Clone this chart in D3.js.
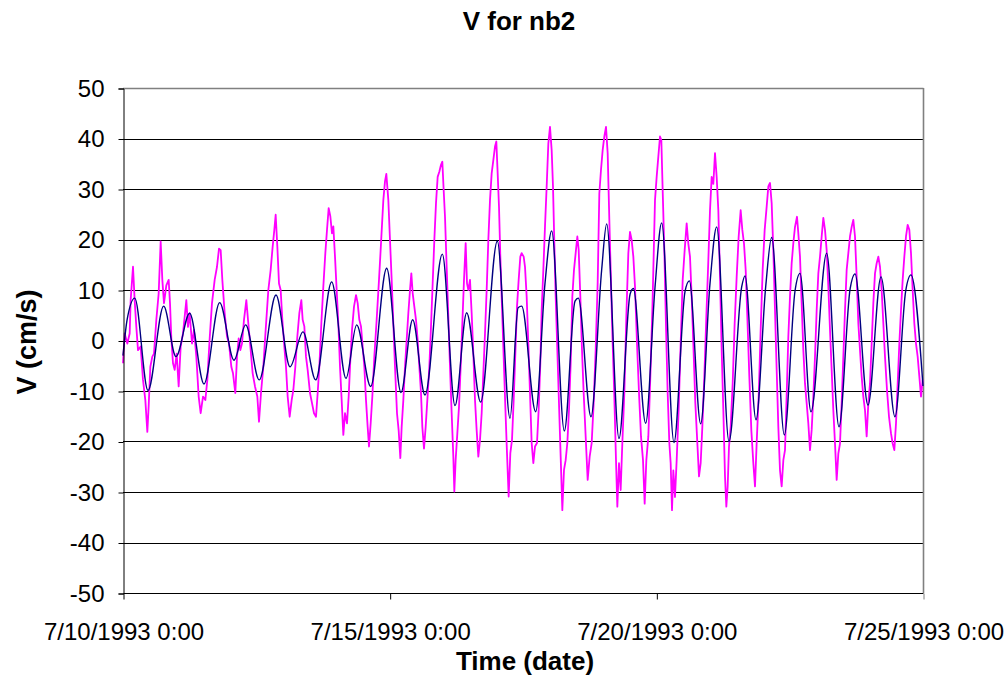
<!DOCTYPE html>
<html><head><meta charset="utf-8">
<script src="https://cdn.jsdelivr.net/npm/d3@7/dist/d3.min.js"></script>
<style>body{margin:0;background:#fff}svg{display:block}text{font-family:"Liberation Sans",Arial,sans-serif}</style>
</head><body><svg id="c" width="1007" height="679"></svg>
<script>
// ---- data (hours after 7/10/1993 0:00, V in cm/s) ----
const chartTitle = "V for nb2";
const xTitle = "Time (date)";
const yTitle = "V (cm/s)";
const yTicks = [-50,-40,-30,-20,-10,0,10,20,30,40,50];
const xTickHours = [0,120,240,360];
const xTickLabels = ["7/10/1993 0:00","7/15/1993 0:00","7/20/1993 0:00","7/25/1993 0:00"];

const observedHours = [0,0.75,1.95,3,3.45,4.5,5.25,6,6.75,7.95,9,10.05,10.95,11.55,12.3,13.2,13.95,15,16.05,16.95,17.7,18.45,19.5,20.55,21.15,21.75,22.5,23.25,24.15,25.05,25.95,27,27.75,28.5,29.25,30,31.05,31.95,33,34.05,34.95,36,37.05,37.95,39,40.05,41.25,42.3,43.2,43.95,44.7,45.75,46.8,47.7,48.75,49.5,50.55,51.3,52.05,52.8,53.55,54.45,55.5,56.25,57,
58.35,59.4,60.45,61.2,62.1,63.15,64.2,65.4,66.45,67.35,68.1,68.7,69.45,70.2,70.95,71.7,72.6,73.35,74.1,75,75.9,76.65,77.55,78.45,79.35,80.25,80.85,81.6,82.35,83.1,84.15,85.05,85.95,86.85,87.6,88.35,89.25,90.15,91.05,91.8,92.55,93.3,94.05,94.65,95.4,96.15,96.9,97.65,98.4,99.15,99.9,100.8,101.55,102.3,103.05,103.95,104.85,105.6,106.35,107.1,107.85,108.6,109.35,110.1,110.7,111.45,112.2,113.1,114.15,115.2,116.1,117.15,117.9,118.5,
119.4,120.15,120.9,121.65,122.4,123.3,124.05,124.8,125.4,126.15,126.9,127.65,128.4,129.15,129.75,130.35,131.1,131.85,132.6,133.35,134.1,134.7,135.45,136.2,136.95,137.85,138.6,139.35,140.1,140.85,141.6,142.35,143.1,143.7,144.3,144.9,145.65,146.4,147.15,147.9,148.65,149.1,149.7,150.45,151.2,151.95,152.7,153.45,154.2,154.8,155.4,156.15,156.9,157.65,158.4,159.15,159.9,160.65,161.4,162.15,162.9,163.65,164.4,165.15,165.9,166.65,167.4,168,168.6,169.2,169.8,170.55,171.3,172.05,172.8,173.55,174.3,175.05,175.8,176.55,177.3,178.05,178.8,
179.4,180.3,180.9,181.65,182.4,183.15,183.9,184.65,185.4,186.3,187.05,187.8,188.4,189.15,189.9,190.65,191.4,192.15,192.9,193.5,194.1,194.7,195.45,196.2,196.95,197.7,198.45,199.2,199.95,200.7,201.45,202.2,202.95,203.7,204.45,205.05,205.8,206.55,207.3,208.2,209.1,210,210.9,211.8,212.7,213.6,214.35,215.1,215.85,216.6,217.35,218.1,218.85,219.6,220.35,221.1,221.85,222.45,223.2,223.95,224.7,225.6,226.5,227.4,228.15,228.9,229.65,230.4,231.3,232.2,233.1,234,234.75,235.5,236.4,237.3,238.2,
238.65,239.4,240.15,240.9,241.65,242.25,242.85,243.6,244.35,245.1,245.85,246.45,247.05,247.65,248.4,249.15,250.05,250.95,251.85,252.75,253.65,254.4,255.15,255.9,256.65,257.55,258.45,259.2,259.95,260.7,261.6,262.5,263.4,264.15,264.9,265.65,266.4,267.15,267.9,268.65,269.4,270.15,270.9,271.5,272.1,272.7,273.45,274.35,275.25,276.15,277.05,277.95,278.7,279.45,280.2,280.95,281.85,282.75,283.65,284.4,285.15,286.05,286.95,287.85,288.75,289.65,290.4,291.15,291.9,292.65,293.4,294.15,294.9,295.65,296.4,297.15,297.9,298.65,
299.4,300.15,300.9,301.65,302.4,303.3,303.9,304.65,305.4,306.15,306.9,307.65,308.4,309.15,309.9,310.65,311.4,312.15,312.9,313.65,314.4,315.15,315.9,316.65,317.4,318.15,318.9,319.65,320.4,321.15,321.9,322.65,323.4,324.15,324.9,325.65,326.4,327.15,327.9,328.65,329.4,330.15,330.9,331.65,332.4,333.15,333.9,334.65,335.4,336.15,336.9,337.65,338.4,339.15,339.9,340.65,341.4,342.15,342.9,343.8,344.7,345.6,346.35,347.1,347.85,348.6,349.35,350.1,350.85,351.6,352.35,353.1,353.85,354.6,355.35,356.1,356.85,357.6,358.35,359.1,359.85];

const observedValues = [-4.5,1.4,-0.6,1.4,8.0,14.6,8.0,2.7,-1.9,-1.2,-7.8,-11.8,-18.1,-13.0,-5.2,-3.2,-2.6,4.1,9.3,19.6,12.0,7.4,10.9,12.0,7.4,0.4,-4.5,-5.8,-2.6,-9.1,-1.2,1.4,4.7,8.0,2.7,5.4,-0.6,2.1,-3.2,-11.1,-14.4,-11.1,-11.8,-7.8,0.4,7.4,12.0,14.6,18.2,17.9,12.0,5.4,0.8,-0.6,-5.2,-6.5,-10.4,-3.2,0.4,-1.9,-0.6,4.1,8.0,4.1,0.4,
-6.5,-9.1,-11.1,-16.1,-10.4,-5.2,2.1,10.0,14.0,18.6,21.9,24.9,18.6,11.3,10.0,4.1,-1.2,-5.2,-11.1,-15.1,-11.8,-9.8,-5.2,0.8,5.4,8.0,4.1,2.8,-3.2,-5.8,-10.4,-12.4,-14.4,-15.1,-10.4,-5.2,3.4,10.7,17.3,21.9,26.2,24.6,21.2,22.6,16.6,10.0,3.4,-5.2,-11.8,-18.7,-14.4,-16.4,-11.1,-3.9,2.1,6.7,9.0,7.4,4.1,2.8,-1.2,-5.2,-11.8,-17.1,-21.0,-16.4,-11.1,-3.2,4.1,12.0,19.2,27.8,31.5,33.0,
27.8,19.9,12.0,3.4,-5.2,-14.4,-17.8,-23.3,-17.1,-11.8,-5.2,0.1,5.4,10.0,13.3,9.4,6.7,4.1,0.1,-5.2,-10.4,-17.1,-21.4,-17.1,-11.8,-5.2,2.8,11.3,19.9,27.2,32.4,33.4,34.8,35.4,29.8,24.5,14.6,4.7,-5.2,-14.4,-23.0,-29.9,-23.6,-18.4,-13.1,-5.2,3.4,12.0,19.3,11.3,10.0,12.0,5.4,-2.6,-11.8,-17.8,-23.0,-19.7,-14.4,-6.5,1.4,10.0,19.9,27.8,33.1,35.7,38.4,39.4,33.1,26.5,16.6,6.7,-3.2,-13.1,-22.3,-30.9,-22.3,-19.7,-11.8,-2.6,6.7,12.0,16.6,
17.3,16.6,14.6,8.7,-0.6,-10.4,-20.3,-24.3,-21.0,-20.3,-13.7,-4.5,6.0,14.0,22.6,30.5,39.0,42.3,37.7,30.5,19.2,8.7,-1.9,-12.5,-23.0,-33.6,-25.6,-23.7,-20.3,-13.7,-4.5,8.7,14.0,17.3,20.6,18.0,8.7,-1.9,-10.4,-19.0,-27.6,-23.0,-20.3,-12.4,-1.9,11.4,29.1,33.8,37.7,40.4,42.3,37.1,23.9,11.4,-0.6,-11.1,-23.7,-32.9,-24.3,-29.6,-20.3,-10.4,4.7,17.3,21.5,19.9,16.6,10.7,-0.6,-10.4,-19.0,-23.7,-32.3,-23.7,-19.0,-7.1,6.0,
14.0,27.8,32.4,36.4,40.4,39.7,29.8,17.9,2.8,-10.4,-20.3,-24.3,-33.6,-25.7,-31.0,-23.7,-13.7,-0.6,11.9,17.9,23.2,19.2,16.6,8.7,-0.6,-12.4,-20.3,-26.9,-24.3,-17.1,-7.1,4.7,15.9,25.8,32.4,31.0,37.1,32.4,25.8,12.6,-1.9,-13.7,-26.9,-32.9,-28.9,-21.0,-17.1,-8.5,3.4,12.6,20.6,25.8,21.9,19.2,14.0,4.7,-7.1,-17.8,-24.3,-28.9,-20.3,-11.1,2.1,14.0,21.9,26.5,30.5,31.2,27.2,17.9,6.0,-5.8,-17.1,-25.7,-28.9,-23.7,-21.7,-10.8,
0.8,8.7,15.3,19.3,22.5,24.5,21.2,16.6,7.4,-1.9,-8.5,-12.4,-16.4,-21.7,-17.7,-11.1,-3.2,6.0,13.3,16.6,20.6,24.3,21.9,17.9,10.7,2.1,-5.8,-13.8,-20.4,-27.6,-22.4,-20.4,-12.4,-3.2,6.0,14.0,17.3,20.6,22.5,23.9,20.6,12.6,3.4,-1.9,-7.1,-11.1,-13.8,-19.0,-12.4,-8.5,-0.6,7.4,13.3,15.3,16.6,14.6,10.0,3.4,-3.2,-9.8,-15.1,-18.4,-20.4,-21.7,-16.4,-8.5,-0.6,6.0,12.0,16.6,20.6,22.9,21.9,17.3,10.0,3.4,-0.6,-3.2,-7.1,-11.1,-7.8];

const modelHours = [0,1.8,5.3,11.25,18.3,23.85,30.0,36.45,43.5,49.95,55.2,61.3,68.85,75.15,81.0,86.7,93.9,100.35,105.15,111.45,118.65,125.1,130.35,135.9,143.7,149.4,154.65,160.95,168.45,174.15,177.8,179.4,185.7,189.9,192.9,198.6,203.4,204.9,210.6,215.4,217.65,223.2,228.2,229.65,235.2,239.4,242.4,247.95,252.9,254.85,259.95,264.15,267.15,272.7,278.4,279.9,284.85,289.2,291.9,297.6,302.4,304.65,309.6,316.65,322.2,327.2,329.4,335.25,341.1,347.4,352.2,354.6,360];
const modelValues = [-3,4,8.4,-9.9,6.8,-3.2,5.4,-8.6,7.5,-3.9,3.1,-7.8,9.0,-5.2,1.7,-7.8,11.6,-7.5,3.1,-9.1,14.3,-10.3,4.1,-10.8,17.1,-12.9,5.5,-12.2,19.7,-15.4,6.5,6.8,-14.1,11.3,21.7,-17.9,7.8,8.4,-15.1,14.0,23.1,-19.4,9.2,10.3,-16.4,10.5,23.3,-20.2,9.7,11.8,-16.5,11.3,22.5,-20.0,10.6,12.8,-15.7,10.6,20.4,-18.7,9.8,13.3,-14.1,17.3,-17.1,10.2,13.2,-12.8,12.6,-15.1,9.8,13.0,-9];

// ---- layout ----
const L = 123, R = 923, T = 88, B = 593;
const FONT = '"Liberation Sans",Arial,sans-serif';
const svg = d3.select("#c");

const x = d3.scaleLinear().domain([0, 360]).range([L, R]);
const y = d3.scaleLinear().domain([-50, 50]).range([B, T]);

// gridlines
svg.append("g").selectAll("line").data(yTicks.filter(v => v !== 50 && v !== -50)).join("line")
  .attr("x1", L).attr("x2", R)
  .attr("y1", d => Math.round(y(d)) + 0.5).attr("y2", d => Math.round(y(d)) + 0.5)
  .attr("stroke", "#000").attr("stroke-width", 1);

// plot border (top/right gray)
svg.append("line").attr("x1", L).attr("x2", R + 0.5).attr("y1", T + 0.5).attr("y2", T + 0.5).attr("stroke", "#808080").attr("stroke-width", 1.3);
svg.append("line").attr("x1", R + 0.5).attr("x2", R + 0.5).attr("y1", T).attr("y2", B).attr("stroke", "#808080").attr("stroke-width", 1.6);

// series
const lineObs = d3.line().x(d => x(d[0])).y(d => y(d[1]));
const obs = observedHours.map((h, i) => [h, observedValues[i]]);
svg.append("path").datum(obs).attr("d", lineObs)
  .attr("fill", "none").attr("stroke", "#FF00FF").attr("stroke-width", 1.8).attr("stroke-linejoin", "round");

const lineMod = d3.line().x(d => x(d[0])).y(d => y(d[1])).curve(d3.curveMonotoneX);
const mod = modelHours.map((h, i) => [h, modelValues[i]]);
svg.append("path").datum(mod).attr("d", lineMod)
  .attr("fill", "none").attr("stroke", "#000080").attr("stroke-width", 1.4);

// axes
const yAxis = d3.axisLeft(y).tickValues(yTicks).tickSize(5).tickPadding(14).tickFormat(d => String(d));
const gy = svg.append("g").attr("transform", `translate(${L + 0.5},0.5)`).call(yAxis);
gy.select(".domain").attr("stroke", "#000");
gy.selectAll(".tick line").attr("stroke", "#000");
gy.selectAll("text").attr("font-size", 24).attr("fill", "#000").attr("font-family", FONT);

const xAxis = d3.axisBottom(x).tickValues(xTickHours).tickSize(6).tickPadding(23)
  .tickFormat((d, i) => xTickLabels[i]);
const gx = svg.append("g").attr("transform", `translate(0.5,${B + 0.5})`).call(xAxis);
gx.select(".domain").attr("stroke", "#000").attr("d", `M${L},0H${R}`);
gx.selectAll(".tick line").attr("stroke", (d, i) => i === xTickHours.length - 1 ? "#808080" : "#000");
gx.selectAll("text").attr("font-size", 24).attr("fill", "#000").attr("font-family", FONT);

// titles
svg.append("text").attr("x", 519).attr("y", 30).attr("text-anchor", "middle")
  .attr("font-size", 26).attr("font-weight", "bold").text(chartTitle);
svg.append("text").attr("x", 525).attr("y", 670).attr("text-anchor", "middle")
  .attr("font-size", 26).attr("font-weight", "bold").text(xTitle);
svg.append("text").attr("transform", "translate(36,342) rotate(-90)").attr("text-anchor", "middle")
  .attr("font-size", 27).attr("font-weight", "bold").text(yTitle);
</script></body></html>
